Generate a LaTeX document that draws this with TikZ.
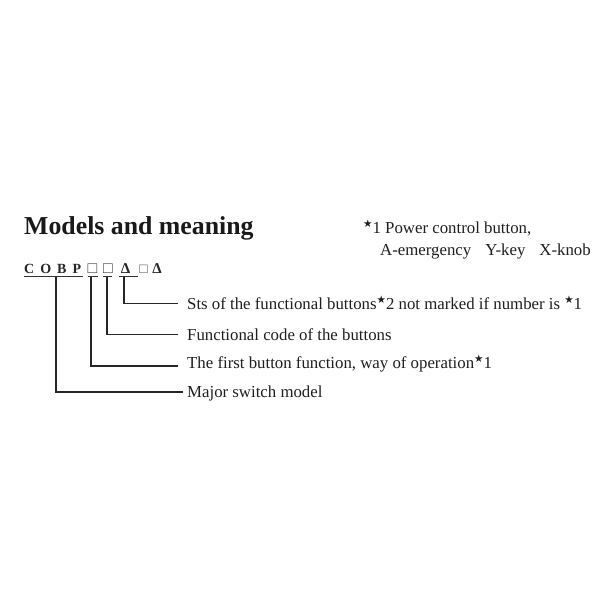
\documentclass[tikz,border=0pt]{standalone}
\usepackage{fontspec}
\setmainfont{Liberation Serif}
\newfontfamily\symfont{DejaVu Sans}
\newcommand{\stm}{\raisebox{0.3em}{\symfont\fontsize{10.5}{10}\selectfont ★}}
\begin{document}
\begin{tikzpicture}[x=1pt,y=-1pt,
  txt/.style={anchor=base west, inner sep=0, text=black!88, font=\fontsize{16.8}{19}\selectfont},
  codefont/.style={anchor=base, inner sep=0, text=black!85, font=\fontsize{14}{16}\selectfont\bfseries},
  uline/.style={line width=1.6pt, draw=black!80},
  conn/.style={line width=1.2pt, draw=black!85}]
\useasboundingbox[fill=white] (0,0) rectangle (600,600);

% title and note
\node[txt, font=\fontsize{25.8}{30}\selectfont\bfseries, text=black!90] (title) at (24,234) {Models and meaning};
\node[txt] (note1) at (363,233) {\stm1 Power control button,};
\node[txt] (note2) at (380,255) {A-emergency\hspace{14pt}Y-key\hspace{14pt}X-knob};

% code row
\node[codefont, anchor=base west] (cobp) at (24,273) {C\kern6pt O\kern6pt B\kern6pt P};
\node[codefont, font=\fontsize{16}{17}\selectfont, text=black!75] (q1) at (92.5,273.5) {□};
\node[codefont, font=\fontsize{16}{17}\selectfont, text=black!75] (q2) at (108,273.5) {□};
\node[codefont, font=\fontsize{15}{16}\selectfont\bfseries] (d1) at (125.5,273) {Δ};
\node[codefont, font=\fontsize{14}{15}\selectfont, text=black!65] (q3) at (143.5,273) {□};
\node[codefont, font=\fontsize{15}{16}\selectfont\bfseries] (d2) at (157,273) {Δ};

% underlines
\draw[uline] (24,276.5) -- (83,276.5);
\draw[uline] (88,276.5) -- (98,276.5);
\draw[uline] (103,276.5) -- (112,276.5);
\draw[uline] (119,276.5) -- (138,276.5);

% connector start points
\coordinate (u1) at (56,277);
\coordinate (u2) at (91,277);
\coordinate (u3) at (107,277);
\coordinate (u4) at (124,277);
% connector end points
\coordinate (e4) at (178,303.5);
\coordinate (e3) at (178,334.5);
\coordinate (e2) at (178,366);
\coordinate (e1) at (183,392);

% labels
\node[txt] (l4) at (187,309) {Sts of the functional buttons\stm2 not marked if number is \stm1};
\node[txt] (l3) at (187,340) {Functional code of the buttons};
\node[txt] (l2) at (187,368) {The first button function, way of operation\stm1};
\node[txt] (l1) at (187,397) {Major switch model};

% connectors
\draw[conn] (u4) |- (e4);
\draw[conn] (u3) |- (e3);
\draw[conn] (u2) |- (e2);
\draw[conn] (u1) |- (e1);
\end{tikzpicture}
\end{document}
